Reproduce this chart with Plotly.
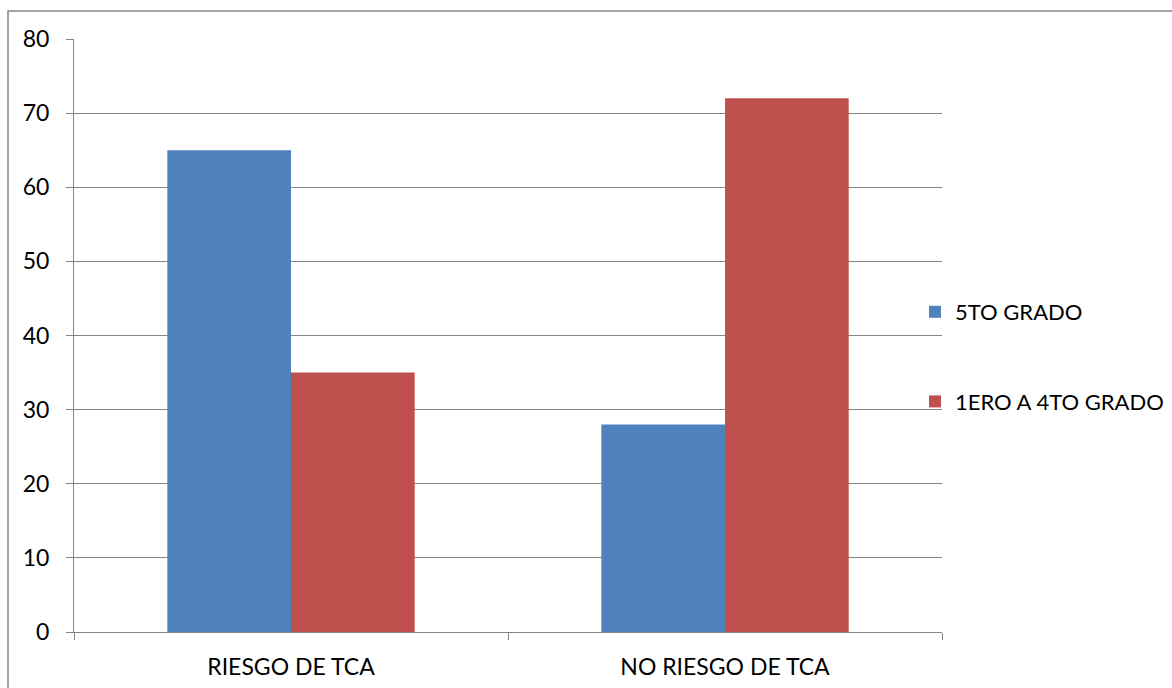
import plotly.graph_objects as go

categories = ["RIESGO DE TCA", "NO RIESGO DE TCA"]
series_names = ["5TO GRADO", "1ERO A 4TO GRADO"]
quinto = [65, 28]
primero_cuarto = [35, 72]
colors = ["#4F81BD", "#C0504D"]
y_ticks = [0, 10, 20, 30, 40, 50, 60, 70, 80]

W, H = 1172, 688
L, R, T, B = 74, 230, 39, 56
pw, ph = W - L - R, H - T - B

fig = go.Figure()
for i, (name, vals) in enumerate(zip(series_names, [quinto, primero_cuarto])):
    fig.add_trace(go.Bar(
        x=categories, y=vals, name=name,
        marker=dict(color=colors[i], line=dict(width=0)),
        legendgroup=f"g{i}",
    ))

font = dict(family="Lato, Open Sans, sans-serif", size=23, color="#000000")
legend_font = dict(family="Lato, Open Sans, sans-serif", size=22, color="#000000")

fig.update_layout(
    width=W, height=H,
    margin=dict(l=L, r=R, t=T, b=B, autoexpand=False),
    paper_bgcolor="white", plot_bgcolor="white",
    barmode="group", bargap=0.43, bargroupgap=0,
    font=font,
    legend=dict(
        x=(915 - L) / pw, y=1 - (291 - T) / ph,
        xanchor="left", yanchor="top",
        traceorder="grouped", tracegroupgap=58,
        font=legend_font, itemwidth=30,
        bgcolor="rgba(0,0,0,0)",
    ),
    xaxis=dict(
        showline=True, linecolor="#868686", linewidth=1,
        ticks="outside", ticklen=7, tickcolor="#868686",
        tickson="boundaries", showgrid=False,
        tickfont=font, ticklabelstandoff=14,
    ),
    yaxis=dict(
        range=[0, 80], tickvals=y_ticks,
        showline=True, linecolor="#868686", linewidth=1,
        ticks="outside", ticklen=7, tickcolor="#868686",
        showgrid=True, gridcolor="#868686", gridwidth=1,
        zeroline=False, tickfont=font, ticklabelstandoff=12,
    ),
)

# outer chart border
fig.add_shape(
    type="rect", xref="paper", yref="paper",
    x0=(8 - L) / pw, x1=(1300 - L) / pw,
    y0=-0.5, y1=1 + (T - 11) / ph,
    line=dict(color="#868686", width=1.5), fillcolor="rgba(0,0,0,0)",
    layer="below",
)

fig.write_html("out.html")
